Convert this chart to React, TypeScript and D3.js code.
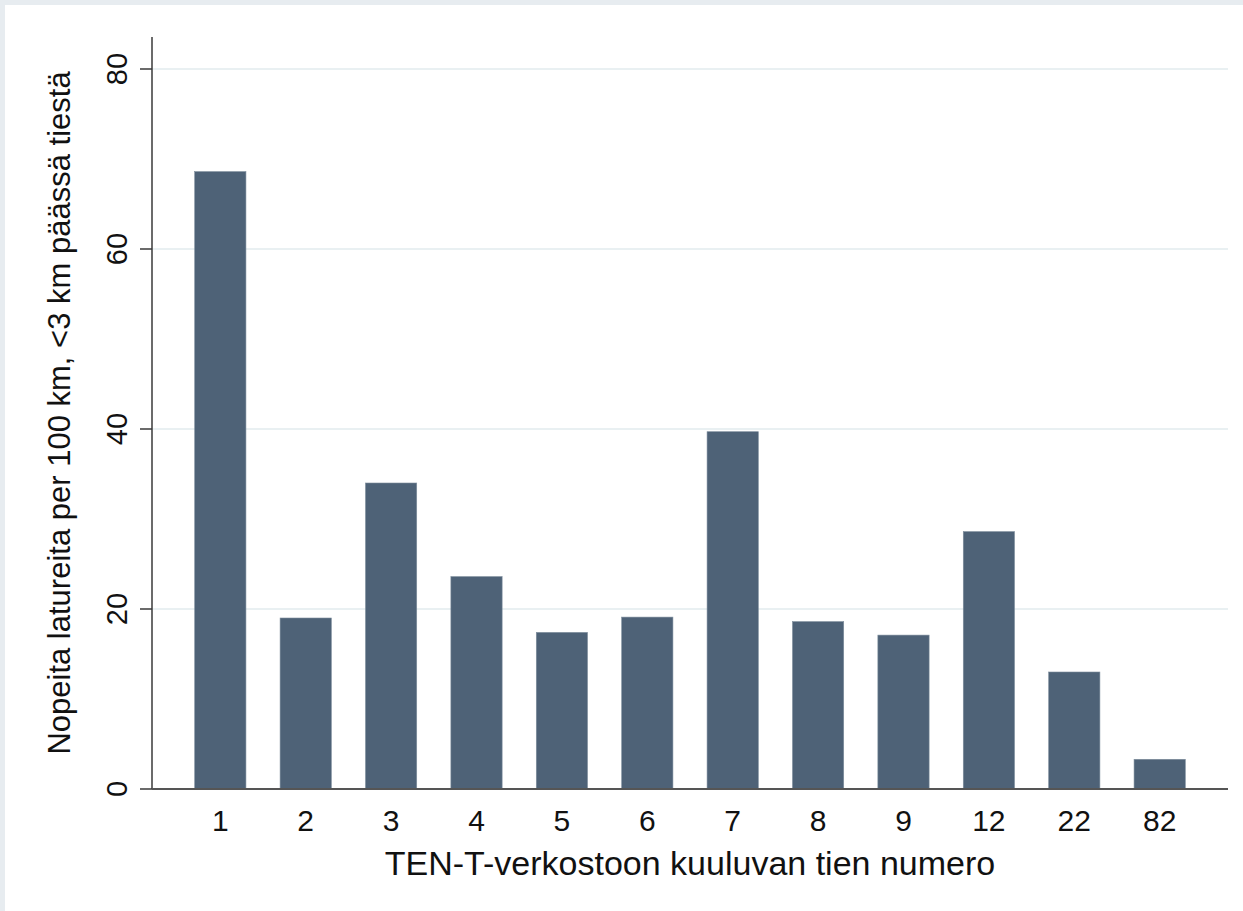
import React, { useEffect, useRef } from "react";
import * as d3 from "d3";

const categories = ["1", "2", "3", "4", "5", "6", "7", "8", "9", "12", "22", "82"];
const values = [68.6, 19.0, 34.0, 23.6, 17.4, 19.1, 39.7, 18.6, 17.1, 28.6, 13.0, 3.3];
const yTicks = [0, 20, 40, 60, 80];
const xTitle = "TEN-T-verkostoon kuuluvan tien numero";
const yTitle = "Nopeita latureita per 100 km, <3 km päässä tiestä";

const W = 1243;
const H = 911;
const FONT = "'Liberation Sans', Arial, sans-serif";

export default function App() {
  const ref = useRef<SVGSVGElement | null>(null);

  useEffect(() => {
    document.body.style.margin = "0";
    const svg = d3.select(ref.current);
    svg.selectAll("*").remove();

    const left = 152, right = 1228, top = 37, bottom = 789;

    const x = d3.scaleBand<string>().domain(categories).range([left, right]).paddingInner(0.4).paddingOuter(0.5);
    const y = d3.scaleLinear().domain([0, 80]).range([bottom, bottom - 720]);

    svg.append("rect").attr("width", W).attr("height", H).attr("fill", "#e7ecf0");
    svg.append("rect").attr("x", 5).attr("y", 5).attr("width", W - 5).attr("height", H - 5).attr("fill", "#ffffff");

    // gridlines
    svg.append("g").selectAll("line").data(yTicks.filter(t => t > 0)).join("line")
      .attr("x1", left).attr("x2", right)
      .attr("y1", d => y(d)).attr("y2", d => y(d))
      .attr("stroke", "#e9f0f2").attr("stroke-width", 2);

    // bars
    svg.append("g").selectAll("rect").data(values).join("rect")
      .attr("x", (_, i) => x(categories[i])!)
      .attr("width", x.bandwidth())
      .attr("y", d => y(d))
      .attr("height", d => y(0) - y(d))
      .attr("fill", "#4e6277")
      .attr("stroke", "#7d8d9c").attr("stroke-width", 0.6);

    // y axis
    svg.append("line").attr("x1", left).attr("x2", left).attr("y1", top).attr("y2", bottom)
      .attr("stroke", "#3a3a3a").attr("stroke-width", 1.5);
    svg.append("g").selectAll("line").data(yTicks).join("line")
      .attr("x1", left - 12).attr("x2", left)
      .attr("y1", d => y(d)).attr("y2", d => y(d))
      .attr("stroke", "#3a3a3a").attr("stroke-width", 1.5);
    svg.append("g").selectAll("text").data(yTicks).join("text")
      .attr("transform", d => `translate(127,${y(d)}) rotate(-90)`)
      .attr("text-anchor", "middle")
      .attr("font-family", FONT).attr("font-size", 29).attr("fill", "#111")
      .text(d => String(d));

    // x axis
    svg.append("line").attr("x1", left).attr("x2", right).attr("y1", bottom).attr("y2", bottom)
      .attr("stroke", "#555").attr("stroke-width", 2);
    svg.append("g").selectAll("text").data(categories).join("text")
      .attr("x", d => x(d)! + x.bandwidth() / 2).attr("y", 831)
      .attr("text-anchor", "middle")
      .attr("font-family", FONT).attr("font-size", 30).attr("fill", "#111")
      .text(d => d);

    // titles
    svg.append("text").attr("x", (left + right) / 2).attr("y", 875)
      .attr("text-anchor", "middle")
      .attr("font-family", FONT).attr("font-size", 34).attr("fill", "#111")
      .text(xTitle);
    svg.append("text").attr("transform", `translate(70,${(top + bottom) / 2}) rotate(-90)`)
      .attr("text-anchor", "middle")
      .attr("font-family", FONT).attr("font-size", 31).attr("fill", "#111")
      .text(yTitle);
  }, []);

  return (
    <div style={{ position: "absolute", left: 0, top: 0 }}>
      <svg ref={ref} width={W} height={H} style={{ display: "block" }} />
    </div>
  );
}
